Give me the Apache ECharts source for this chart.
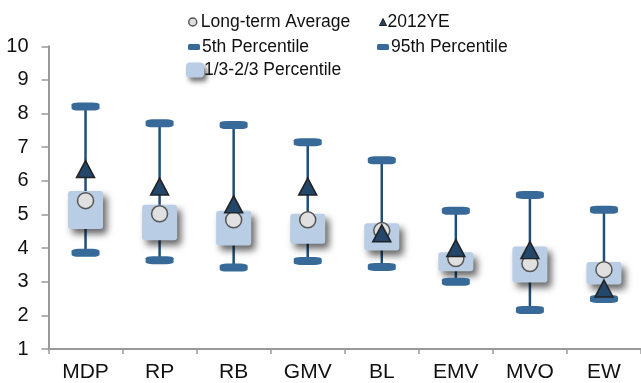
<!DOCTYPE html>
<html>
<head>
<meta charset="utf-8">
<script src="https://cdn.jsdelivr.net/npm/echarts@6/dist/echarts.min.js"></script>
<style>
  html, body { margin: 0; padding: 0; background: #fff; }
  #chart { width: 641px; height: 383px; }
</style>
</head>
<body>
<div id="chart"></div>
<script>
// data
var categories = ['MDP', 'RP', 'RB', 'GMV', 'BL', 'EMV', 'MVO', 'EW'];
var pct95 = [8.21, 7.71, 7.66, 7.15, 6.61, 5.11, 5.58, 5.14];
var pct5 = [3.86, 3.64, 3.42, 3.62, 3.44, 3.00, 2.16, 2.49];
var boxHigh = [5.70, 5.29, 5.11, 5.02, 4.74, 3.88, 4.05, 3.59];
var boxLow = [4.57, 4.23, 4.08, 4.13, 3.93, 3.31, 2.98, 2.92];
var longTermAvg = [5.41, 5.02, 4.84, 4.84, 4.52, 3.69, 3.54, 3.36];
var ye2012 = [6.35, 5.83, 5.30, 5.83, 4.44, 4.00, 3.94, 2.80];
var yTicks = [1, 10, 1]; // min, max, step

var axisFont = 'Liberation Sans, Arial, sans-serif';

var capColor = '#376a99';
var whiskerColor = '#1f4e79';
var boxColor = '#b9cde5';

var whiskerData = categories.map(function (c, i) { return [i, pct5[i], pct95[i]]; });
var boxData = categories.map(function (c, i) { return [i, boxLow[i], boxHigh[i]]; });

function legendItem(name, icon, left, top, w, h, style, pad) {
  return {
    data: [{ name: name, icon: icon, itemStyle: style }],
    left: left,
    top: top,
    padding: 0,
    itemWidth: w,
    itemHeight: h,
    selectedMode: false,
    textStyle: {
      fontFamily: axisFont,
      fontSize: 17.5,
      lineHeight: 20,
      color: '#111',
      padding: [0, 0, 0, pad]
    }
  };
}

var chart = echarts.init(document.getElementById('chart'));

chart.setOption({
  animation: false,
  grid: { left: 48.5, top: 46.3, width: 594.7, height: 304.7, containLabel: false },
  legend: [
    legendItem('Long-term Average', 'circle', 188, 12, 8, 8,
      { color: '#e0e0e0', borderColor: '#555', borderWidth: 1.5 }, -1),
    legendItem('2012YE', 'triangle', 379, 12, 7, 7,
      { color: '#23466b', borderColor: '#222', borderWidth: 1 }, -4),
    legendItem('5th Percentile', 'roundRect', 188, 37, 12, 6,
      { color: capColor }, -3),
    legendItem('95th Percentile', 'roundRect', 377, 37, 12, 6,
      { color: capColor }, -3),
    legendItem('1/3-2/3 Percentile', 'roundRect', 186, 60, 18, 15,
      { color: boxColor, shadowBlur: 5, shadowOffsetX: 3, shadowOffsetY: 4, shadowColor: 'rgba(0,0,0,0.55)' }, -5)
  ],
  xAxis: {
    type: 'category',
    data: categories,
    boundaryGap: true,
    axisLine: { lineStyle: { color: '#999', width: 2 } },
    axisTick: { show: true, length: 5, lineStyle: { color: '#999', width: 1.5 } },
    axisLabel: { fontFamily: axisFont, fontSize: 21, color: '#111', margin: 13 },
    splitLine: { show: false }
  },
  yAxis: {
    type: 'value',
    min: yTicks[0],
    max: yTicks[1],
    interval: yTicks[2],
    axisLine: { show: true, lineStyle: { color: '#999', width: 2 } },
    axisTick: { show: true, length: 7, lineStyle: { color: '#999', width: 1.5 } },
    axisLabel: { fontFamily: axisFont, fontSize: 20, color: '#111', margin: 20 },
    splitLine: { show: false }
  },
  series: [
    {
      // whisker from 5th to 95th
      name: 'whisker',
      type: 'custom',
      z: 1,
      data: whiskerData,
      encode: { x: 0, y: [1, 2] },
      renderItem: function (params, api) {
        var lo = api.coord([api.value(0), api.value(1)]);
        var hi = api.coord([api.value(0), api.value(2)]);
        return {
          type: 'line',
          shape: { x1: lo[0], y1: lo[1], x2: hi[0], y2: hi[1] },
          style: { stroke: whiskerColor, lineWidth: 2.5 }
        };
      }
    },
    {
      name: '1/3-2/3 Percentile',
      type: 'custom',
      z: 2,
      data: boxData,
      encode: { x: 0, y: [1, 2] },
      itemStyle: { color: boxColor },
      renderItem: function (params, api) {
        var lo = api.coord([api.value(0), api.value(1)]);
        var hi = api.coord([api.value(0), api.value(2)]);
        var w = 35;
        return {
          type: 'rect',
          shape: { x: lo[0] - w / 2, y: hi[1], width: w, height: lo[1] - hi[1], r: 3 },
          style: {
            fill: boxColor,
            shadowBlur: 7,
            shadowOffsetX: 4,
            shadowOffsetY: 5,
            shadowColor: 'rgba(0,0,0,0.6)'
          }
        };
      }
    },
    {
      name: '5th Percentile',
      type: 'scatter',
      z: 3,
      data: pct5,
      symbol: 'roundRect',
      symbolSize: [28, 8],
      itemStyle: { color: capColor, opacity: 1 }
    },
    {
      name: '95th Percentile',
      type: 'scatter',
      z: 3,
      data: pct95,
      symbol: 'roundRect',
      symbolSize: [28, 8],
      itemStyle: { color: capColor, opacity: 1 }
    },
    {
      name: 'Long-term Average',
      type: 'scatter',
      z: 4,
      data: longTermAvg,
      symbol: 'circle',
      symbolSize: 16,
      itemStyle: { color: '#e0e0e0', borderColor: '#555', borderWidth: 1.5, opacity: 1 }
    },
    {
      name: '2012YE',
      type: 'scatter',
      z: 5,
      data: ye2012,
      symbol: 'triangle',
      symbolSize: [18, 17],
      itemStyle: { color: '#23466b', borderColor: '#222', borderWidth: 1.5, opacity: 1 }
    }
  ]
});
</script>
</body>
</html>
